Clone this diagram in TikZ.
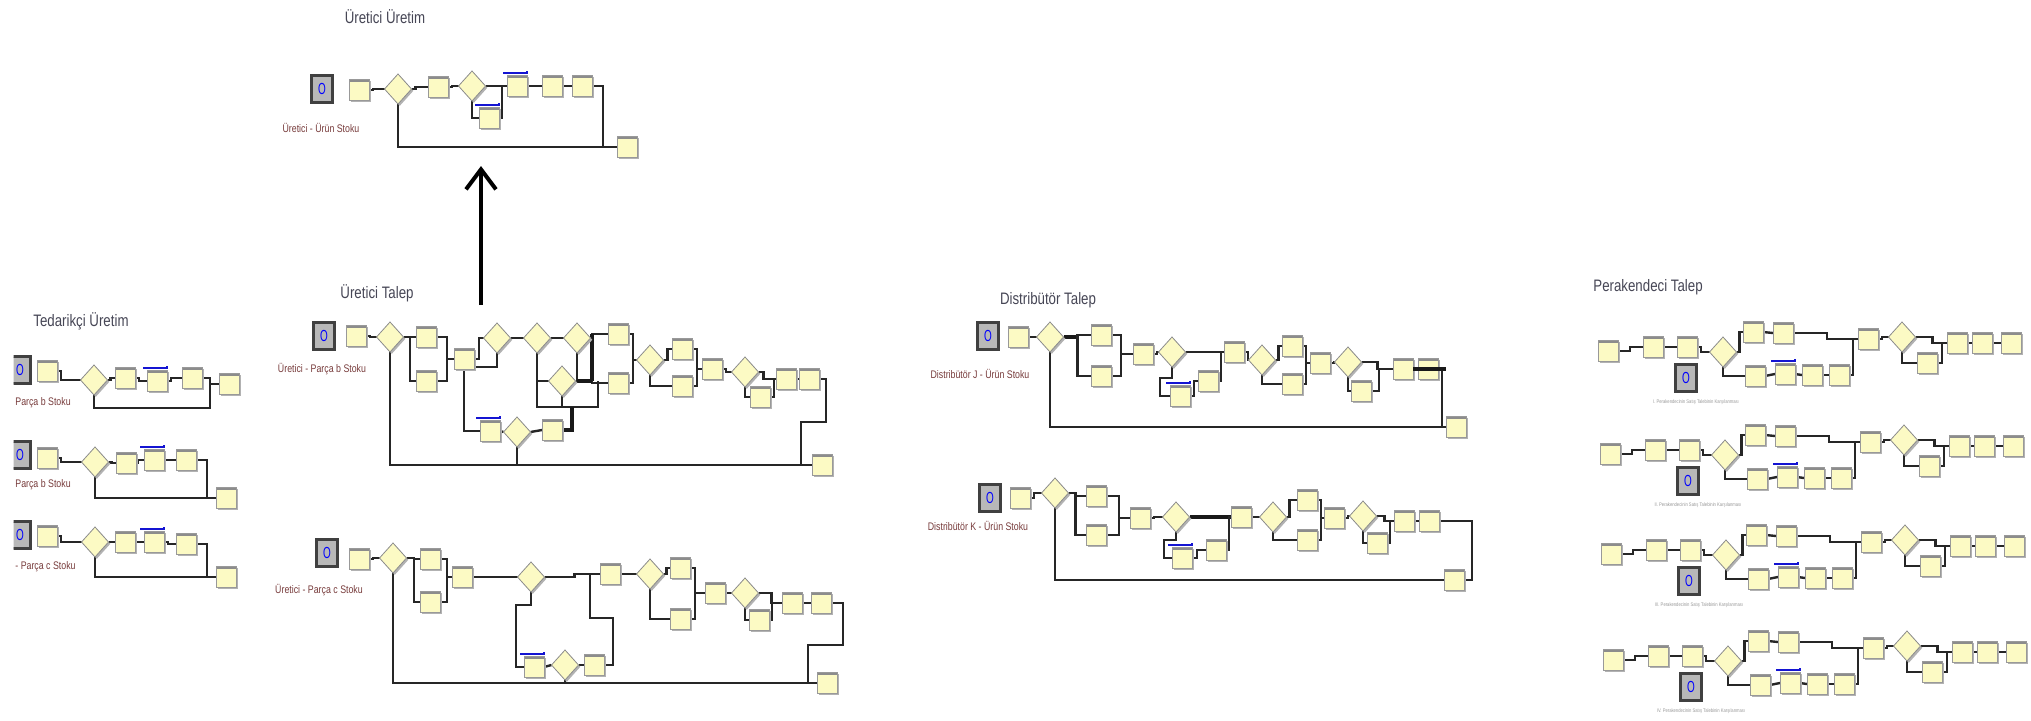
\documentclass[tikz,border=0pt]{standalone}
\usepackage{fontspec}
\setmainfont{Liberation Sans}
\newfontfamily\ttlfont[FakeStretch=0.8]{Liberation Sans}
\newfontfamily\opfont[FakeStretch=0.62]{Liberation Sans}
\usetikzlibrary{shapes.geometric,shadows,arrows.meta,calc}
\pgfdeclarelayer{bg}
\pgfsetlayers{bg,main}
\definecolor{procyellow}{RGB}{252,250,196}
\definecolor{titlecol}{RGB}{70,70,85}
\definecolor{lblcol}{RGB}{120,60,60}
\definecolor{barblue}{RGB}{20,20,210}
\tikzset{
 conn/.style={draw=black!85, line width=1.2pt},
 thickconn/.style={draw=black!90, line width=2pt},
 procbox/.style={rectangle, fill=procyellow, draw=black!40, line width=0.4pt, minimum width=10pt, minimum height=10.5pt, inner sep=0pt, outer sep=0pt,
   drop shadow={shadow xshift=0.9pt, shadow yshift=-0.9pt, fill=black!30, opacity=1},
   path picture={\fill[black!45] (path picture bounding box.north west) rectangle ([yshift=-1.4pt]path picture bounding box.north east);}},
 decide/.style={diamond, fill=procyellow, draw=black!45, line width=0.4pt, minimum width=13.5pt, minimum height=15pt, inner sep=0pt, outer sep=0pt,
   drop shadow={shadow xshift=0.9pt, shadow yshift=-0.9pt, fill=black!30, opacity=1}},
 oper/.style={rectangle, fill=black!28, draw=black!75, line width=1.1pt, minimum width=10.5pt, minimum height=13.5pt, inner sep=0pt, text=blue, font=\opfont\fontsize{8}{8}\selectfont},
 ttl/.style={text=titlecol, font=\ttlfont\fontsize{8.3}{9}\selectfont, inner sep=0pt},
 lbl/.style={text=lblcol, font=\ttlfont\fontsize{5.5}{6}\selectfont, inner sep=0pt},
 capt/.style={text=black!40, font=\ttlfont\fontsize{2.6}{3}\selectfont, inner sep=0pt},
 qbar/.style={draw=barblue, line width=1.1pt},
 bigarrow/.style={draw=black, line width=2pt, -{Straight Barb[length=10pt, width=15pt, line width=2pt]}}
}
\newcommand{\mkP}[3]{\node[procbox] (#1) at (#2,#3) {};}
\newcommand{\mkD}[3]{\node[decide] (#1) at (#2,#3) {};}
\newcommand{\mkO}[3]{\node[oper] (#1) at (#2,#3) {O};}
\newcommand{\mkB}[1]{\draw[qbar] ([xshift=-2pt,yshift=1.4pt]#1.north west) -- ([yshift=1.4pt]#1.north east) -- ++(0,1pt);}
\newcommand{\hcon}[2]{\draw[conn] (#1.east) -- ++(4,0) |- (#2.west);}
\begin{document}
\begin{tikzpicture}[x=0.5pt,y=-0.5pt]
\useasboundingbox (0,0) rectangle (2031,720);
\begin{pgfonlayer}{bg}
\fill[white] (0,0) rectangle (2031,720);
\end{pgfonlayer}

% ---------------- Uretici Uretim ----------------
\node[ttl] (tA) at (385,17) {Üretici Üretim};
\mkO{aop}{322}{89}
\node[lbl] (aL) at (321,128) {Üretici - Ürün Stoku};
\mkP{a1}{359}{90}
\mkD{a2}{398}{89}
\mkP{a3}{438}{87}
\mkD{a4}{472}{86}
\mkP{a5}{517}{86}
\mkP{a6}{489}{118}
\mkP{a7}{552}{86}
\mkP{a8}{582}{86}
\mkP{a9}{627}{147}
\mkB{a5}\mkB{a6}
\begin{pgfonlayer}{bg}
\hcon{a1}{a2}
\hcon{a2}{a3}
\hcon{a3}{a4}
\draw[conn] (a4.east) -- (a5.west);
\draw[conn] (a4.south) |- (a6.west);
\draw[conn] (a6.east) -- ++(3,0) |- (a5.west);
\draw[conn] (a5.east) -- (a7.west);
\draw[conn] (a7.east) -- (a8.west);
\draw[conn] (a8.east) -- ++(11,0) |- (a9.west);
\draw[conn] (a2.south) |- (a9.west);
\end{pgfonlayer}

% big arrow
\coordinate (arS) at (481,305);
\coordinate (arE) at (481,166);
\draw[bigarrow] (arS) -- (arE);

% ---------------- Tedarikci Uretim ----------------
\node[ttl] (tB) at (81,321) {Tedarikçi Üretim};
\begin{scope}
\clip (13.5,300) rectangle (100,620);
\mkO{b1op}{20}{370}
\mkO{b2op}{20}{455}
\mkO{b3op}{20}{535}
\end{scope}
\node[lbl, anchor=west] (b1L) at (15,403) {Parça b Stoku};
\node[lbl, anchor=west] (b2L) at (15,485) {Parça b Stoku};
\node[lbl, anchor=west] (b3L) at (15,567) {- Parça c Stoku};
% row 1
\mkP{b1c}{47}{371} \mkD{b1d}{94}{380} \mkP{b1p}{125}{378} \mkP{b1q}{157}{381} \mkP{b1r}{192}{378} \mkP{b1x}{229}{384}
\mkB{b1q}
% row 2
\mkP{b2c}{47}{458} \mkD{b2d}{95}{462} \mkP{b2p}{126}{463} \mkP{b2q}{154}{460} \mkP{b2r}{186}{460} \mkP{b2x}{226}{498}
\mkB{b2q}
% row 3
\mkP{b3c}{47}{536} \mkD{b3d}{95}{542} \mkP{b3p}{125}{542} \mkP{b3q}{154}{542} \mkP{b3r}{186}{544} \mkP{b3x}{226}{577}
\mkB{b3q}
\coordinate (b1j) at (210,384);
\coordinate (b2j) at (207,498);
\coordinate (b3j) at (207,577);
\begin{pgfonlayer}{bg}
\hcon{b1c}{b1d}
\draw[conn] (b1d.east) -- ++(3,0) |- (b1p.west);
\draw[conn] (b1p.east) -- ++(4,0) |- (b1q.west);
\draw[conn] (b1q.east) -- ++(4,0) |- (b1r.west);
\draw[conn] (b1r.east) -| (b1j) -- (b1x.west);
\draw[conn] (b1d.south) -- ++(0,13) -| (b1j);
\hcon{b2c}{b2d}
\draw[conn] (b2d.east) -- ++(3,0) |- (b2p.west);
\draw[conn] (b2p.east) -- ++(2,0) |- (b2q.west);
\draw[conn] (b2q.east) -- ++(4,0) |- (b2r.west);
\draw[conn] (b2r.east) -| (b2j) -- (b2x.west);
\draw[conn] (b2d.south) |- (b2j);
\hcon{b3c}{b3d}
\draw[conn] (b3d.east) -- ++(3,0) |- (b3p.west);
\draw[conn] (b3p.east) -- ++(2,0) |- (b3q.west);
\draw[conn] (b3q.east) -- ++(4,0) |- (b3r.west);
\draw[conn] (b3r.east) -| (b3j) -- (b3x.west);
\draw[conn] (b3d.south) |- (b3j);
\end{pgfonlayer}

% ---------------- Uretici Talep (Parca b) ----------------
\node[ttl] (tC) at (377,293) {Üretici Talep};
\mkO{cop}{324}{336}
\node[lbl] (cL) at (322,369) {Üretici - Parça b Stoku};
\mkP{c1}{356}{336}
\mkD{c2}{390}{337}
\mkP{c3a}{426}{337}
\mkP{c3b}{426}{381}
\mkP{c4}{464}{359}
\mkD{c5}{497}{338}
\mkD{c6}{537}{338}
\mkD{c7}{577}{338}
\mkD{c8}{562}{381}
\mkP{c9}{618}{334}
\mkP{c10}{618}{383}
\mkD{c11}{650}{360}
\mkP{c12a}{682}{349}
\mkP{c12b}{682}{386}
\mkP{c13}{712}{369}
\mkD{c14}{745}{372}
\mkP{c15}{786}{379}
\mkP{c15b}{760}{397}
\mkP{c16}{809}{379}
\mkP{c17}{822}{465}
\mkP{c18}{490}{431}
\mkD{c19}{517}{432}
\mkP{c20}{552}{430}
\mkB{c18}
\coordinate (cJ) at (592,334);
\coordinate (cK) at (592,381);
\coordinate (cL1) at (537,407);
\coordinate (cL2) at (598,407);
\coordinate (cL3) at (572,407);
\coordinate (cR1) at (826,422);
\coordinate (cR2) at (801,422);
\begin{pgfonlayer}{bg}
\hcon{c1}{c2}
\draw[conn] (c2.east) -- ++(6.5,0) coordinate (cS) |- (c3a.west);
\draw[conn] (cS) |- (c3b.west);
\draw[conn] (c3a.east) -- ++(11,0) coordinate (cM) |- (c3b.east);
\draw[conn] (cM |- c4.west) -- (c4.west);
\draw[conn] (c4.east) -- ++(5,0) |- (c5.west);
\draw[conn] (c5.south) |- ([yshift=-4pt]c4.east);
\draw[conn] (c5.east) -- (c6.west);
\draw[conn] (c6.east) -- (c7.west);
\draw[conn] (c7.east) -| (cJ) -- (c9.west);
\draw[thickconn] (cJ) -- (cK);
\draw[conn] (c8.east) -- (cK) |- (c10.west);
\draw[conn] (c7.south) -- (c7.south |- cK);
\draw[thickconn] (c7.south |- cK) -- (cK);
\draw[conn] (c6.south) -- (cL1) -- (cL2) -- (cL2 |- cK);
\draw[conn] (c6.south |- c8.west) -- (c8.west);
\draw[conn] (c8.south) -- (c8.south |- cL1);
\draw[thickconn] (c20.east) -| (cL3);
\draw[conn] (c9.east) -- ++(5,0) |- (c11.west);
\draw[conn] (c10.east) -- ++(5,0) |- (c11.west);
\draw[conn] (c11.east) -- ++(4,0) |- (c12a.west);
\draw[conn] (c11.south) |- (c12b.west);
\draw[conn] (c12a.east) -- ++(5,0) coordinate (cM2) |- (c12b.east);
\draw[conn] (cM2 |- c13.west) -- (c13.west);
\draw[conn] (c13.east) -- ++(4,0) |- (c14.west);
\draw[conn] (c14.east) -- ++(5,0) |- (c15.west);
\draw[conn] (c14.south) |- (c15b.west);
\draw[conn] (c15b.east) -- ++(4,0) |- (c15.west);
\draw[conn] (c15.east) -- (c16.west);
\draw[conn] (c16.east) -| (cR1) -- (cR2) |- (c17.west);
\draw[conn] (c2.south) |- (c17.west);
\draw[conn] (c4.south) |- (c18.west);
\draw[conn] (c18.east) -- (c19.west);
\draw[conn] (c19.east) -- (c20.west);
\draw[conn] (c19.south) -- (c19.south |- c17.west);
\end{pgfonlayer}

% ---------------- Uretici Talep (Parca c) ----------------
\mkO{dop}{327}{553}
\node[lbl] (dL) at (319,590) {Üretici - Parça c Stoku};
\mkP{d1}{359}{559}
\mkD{d2}{393}{558}
\mkP{d3a}{430}{559}
\mkP{d3b}{430}{602}
\mkP{d4}{462}{577}
\mkD{d5}{531}{577}
\mkP{d6}{610}{574}
\mkD{d7}{650}{574}
\mkP{d8a}{680}{568}
\mkP{d8b}{680}{619}
\mkP{d9}{715}{593}
\mkD{d10}{745}{593}
\mkP{d11}{792}{603}
\mkP{d11b}{759}{620}
\mkP{d12}{821}{603}
\mkP{d13}{827}{683}
\mkP{d14}{534}{667}
\mkD{d15}{565}{665}
\mkP{d16}{594}{665}
\mkB{d14}
\coordinate (dJ1) at (590,574);
\coordinate (dJ2) at (590,618);
\coordinate (dJ3) at (613,618);
\coordinate (dR1) at (843,645);
\coordinate (dR2) at (808,645);
\begin{pgfonlayer}{bg}
\hcon{d1}{d2}
\draw[conn] (d2.east) -- ++(7.5,0) coordinate (dS) |- (d3a.west);
\draw[conn] (dS) |- (d3b.west);
\draw[conn] (d3a.east) -- ++(7,0) coordinate (dM) |- (d3b.east);
\draw[conn] (dM |- d4.west) -- (d4.west);
\draw[conn] (d4.east) -- (d5.west);
\draw[conn] (d5.east) -- ++(30,0) |- (d6.west);
\draw[conn] (dJ1) -- (dJ2) -- (dJ3) |- (d16.east);
\draw[conn] (d6.east) -- (d7.west);
\draw[conn] (d7.east) -- ++(3,0) |- (d8a.west);
\draw[conn] (d7.south) |- (d8b.west);
\draw[conn] (d8a.east) -- ++(5,0) coordinate (dM2) |- (d8b.east);
\draw[conn] (dM2 |- d9.west) -- (d9.west);
\draw[conn] (d9.east) -- (d10.west);
\draw[conn] (d10.east) -- ++(13,0) |- (d11.west);
\draw[conn] (d10.south) |- (d11b.west);
\draw[conn] (d11b.east) -- ++(3,0) |- (d11.west);
\draw[conn] (d11.east) -- (d12.west);
\draw[conn] (d12.east) -| (dR1) -- (dR2) |- (d13.west);
\draw[conn] (d2.south) |- (d13.west);
\draw[conn] (d5.south) -- ++(0,13) -| ([xshift=-4pt]d14.west) -- (d14.west);
\draw[conn] (d14.east) -- (d15.west);
\draw[conn] (d15.east) -- (d16.west);
\draw[conn] (d15.south) -- (d15.south |- d13.west);
\end{pgfonlayer}

% ---------------- Distributor Talep ----------------
\node[ttl] (tE) at (1048,300) {Distribütör Talep};
% row J
\mkO{ejop}{988}{336}
\node[lbl] (ejL) at (980,374) {Distribütör J - Ürün Stoku};
\mkP{ej1}{1018}{337}
\mkD{ej2}{1050}{337}
\mkP{ej3a}{1101}{335}
\mkP{ej3b}{1101}{376}
\mkP{ej4}{1143}{354}
\mkD{ej5}{1172}{352}
\mkP{ej6}{1234}{352}
\mkD{ej7}{1262}{360}
\mkP{ej8a}{1292}{346}
\mkP{ej8b}{1292}{384}
\mkP{ej9}{1320}{363}
\mkD{ej10}{1348}{362}
\mkP{ej11}{1403}{369}
\mkP{ej11b}{1361}{391}
\mkP{ej12}{1428}{369}
\mkP{ej13}{1456}{427}
\mkP{ejL1}{1180}{396}
\mkP{ejL2}{1208}{381}
\mkB{ejL1}
\coordinate (ejR) at (1446,369);
\begin{pgfonlayer}{bg}
\hcon{ej1}{ej2}
\draw[thickconn] (ej2.east) -- ++(14,0) coordinate (ejS);
\draw[conn] (ejS) |- (ej3a.west);
\draw[conn] (ejS) |- (ej3b.west);
\draw[conn] (ej3a.east) -- ++(10,0) coordinate (ejM) |- (ej3b.east);
\draw[conn] (ejM |- ej4.west) -- (ej4.west);
\hcon{ej4}{ej5}
\draw[conn] (ej5.east) -- ++(20,0) |- (ej6.west);
\draw[conn] (ejL2.east) -- ++(3,0) |- (ej6.west);
\draw[conn] (ej5.south) -- ++(0,11) -- ++(-12,0) |- (ejL1.west);
\draw[conn] (ejL1.east) -- ++(4,0) |- (ejL2.west);
\hcon{ej6}{ej7}
\draw[conn] (ej7.east) -- ++(3,0) |- (ej8a.west);
\draw[conn] (ej7.south) |- (ej8b.west);
\draw[conn] (ej8a.east) -- ++(4,0) coordinate (ejM2) |- (ej8b.east);
\draw[conn] (ejM2 |- ej9.west) -- (ej9.west);
\hcon{ej9}{ej10}
\draw[conn] (ej10.east) -- ++(16,0) |- (ej11.west);
\draw[conn] (ej10.south) |- (ej11b.west);
\draw[conn] (ej11b.east) -- ++(8,0) |- (ej11.west);
\draw[conn] (ejR) -- ++(-4,0) |- (ej13.west);
\draw[conn] (ej2.south) |- (ej13.west);
\end{pgfonlayer}
\draw[thickconn] (ej11.east) -- (ejR);
% row K
\mkO{ekop}{990}{498}
\node[lbl] (ekL) at (978,526) {Distribütör K - Ürün Stoku};
\mkP{ek1}{1020}{498}
\mkD{ek2}{1055}{493}
\mkP{ek3a}{1096}{496}
\mkP{ek3b}{1096}{535}
\mkP{ek4}{1140}{518}
\mkD{ek5}{1176}{517}
\mkP{ek6}{1241}{517}
\mkD{ek7}{1273}{517}
\mkP{ek8a}{1307}{500}
\mkP{ek8b}{1307}{540}
\mkP{ek9}{1334}{518}
\mkD{ek10}{1363}{516}
\mkP{ek11}{1404}{521}
\mkP{ek11b}{1377}{543}
\mkP{ek12}{1429}{521}
\mkP{ek13}{1454}{580}
\mkP{ekL1}{1182}{558}
\mkP{ekL2}{1216}{550}
\mkB{ekL1}
\coordinate (ekR) at (1472,521);
\begin{pgfonlayer}{bg}
\hcon{ek1}{ek2}
\draw[conn] (ek2.east) -- ++(7,0) coordinate (ekS) |- (ek3a.west);
\draw[conn] (ekS) |- (ek3b.west);
\draw[conn] (ek3a.east) -- ++(13,0) coordinate (ekM) |- (ek3b.east);
\draw[conn] (ekM |- ek4.west) -- (ek4.west);
\hcon{ek4}{ek5}
\draw[thickconn] (ek5.east) -- (ek6.west);
\draw[conn] (ekL2.east) -- ++(3,0) |- (ek6.west);
\draw[conn] (ek5.south) -- ++(0,8) -- ++(-12,0) |- (ekL1.west);
\draw[conn] (ekL1.east) -- ++(5,0) |- (ekL2.west);
\draw[conn] (ek6.east) -- (ek7.west);
\draw[conn] (ek7.east) -- ++(3,0) |- (ek8a.west);
\draw[conn] (ek7.south) |- (ek8b.west);
\draw[conn] (ek8a.east) -- ++(4,0) coordinate (ekM2) |- (ek8b.east);
\draw[conn] (ekM2 |- ek9.west) -- (ek9.west);
\hcon{ek9}{ek10}
\draw[conn] (ek10.east) -- ++(8,0) |- (ek11.west);
\draw[conn] (ek10.south) |- (ek11b.west);
\draw[conn] (ek11b.east) -- ++(3,0) |- (ek11.west);
\draw[conn] (ek11.east) -- (ek12.west);
\draw[conn] (ek12.east) -- (ekR) |- (ek13.east);
\draw[conn] (ek2.south) |- (ek13.west);
\end{pgfonlayer}

% ---------------- Perakendeci Talep ----------------
\node[ttl, anchor=west] (tF) at (1593,287) {Perakendeci Talep};
\foreach \rr/\ddx/\ddy/\capn in {1/0/0/I, 2/2/103/II, 3/3/203/III, 4/5/309/IV}{
\begin{scope}[shift={(\ddx,\ddy)}]
\mkP{pa\rr}{1608}{351}
\mkP{pb\rr}{1653}{347}
\mkP{pc\rr}{1687}{347}
\mkD{pd\rr}{1723}{352}
\mkO{po\rr}{1686}{378}
\node[capt] (pt\rr) at (1696,402) {\capn. Perakendecinin Satış Talebinin Karşılanması};
\mkP{pe\rr}{1753}{332}
\mkP{pf\rr}{1783}{333}
\mkP{pg\rr}{1755}{376}
\mkP{ph\rr}{1785}{374}
\mkP{pi\rr}{1812}{375}
\mkP{pj\rr}{1839}{375}
\mkP{pk\rr}{1868}{339}
\mkD{pl\rr}{1902}{337}
\mkP{pm\rr}{1957}{343}
\mkP{pn\rr}{1982}{343}
\mkP{pq\rr}{2011}{343}
\mkP{pr\rr}{1927}{363}
\mkB{ph\rr}
\coordinate (pM\rr) at (1853,339);
\begin{pgfonlayer}{bg}
\draw[conn] (pa\rr.east) -- ++(12,0) |- (pb\rr.west);
\draw[conn] (pb\rr.east) -- (pc\rr.west);
\hcon{pc\rr}{pd\rr}
\draw[conn] (pd\rr.east) -- ++(3,0) |- (pe\rr.west);
\draw[conn] (pd\rr.south) |- (pg\rr.west);
\draw[conn] (pe\rr.east) -- (pf\rr.west);
\draw[conn] (pf\rr.east) -- ++(34,0) |- (pM\rr) -- (pk\rr.west);
\draw[conn] (pj\rr.east) -| (pM\rr);
\draw[conn] (pg\rr.east) -- (ph\rr.west);
\draw[conn] (ph\rr.east) -- (pi\rr.west);
\draw[conn] (pi\rr.east) -- (pj\rr.west);
\hcon{pk\rr}{pl\rr}
\draw[conn] (pl\rr.east) -- ++(17,0) |- (pm\rr.west);
\draw[conn] (pl\rr.south) |- (pr\rr.west);
\draw[conn] (pr\rr.east) -- ++(5,0) |- (pm\rr.west);
\draw[conn] (pm\rr.east) -- (pn\rr.west);
\draw[conn] (pn\rr.east) -- (pq\rr.west);
\end{pgfonlayer}
\end{scope}}
\end{tikzpicture}
\end{document}
